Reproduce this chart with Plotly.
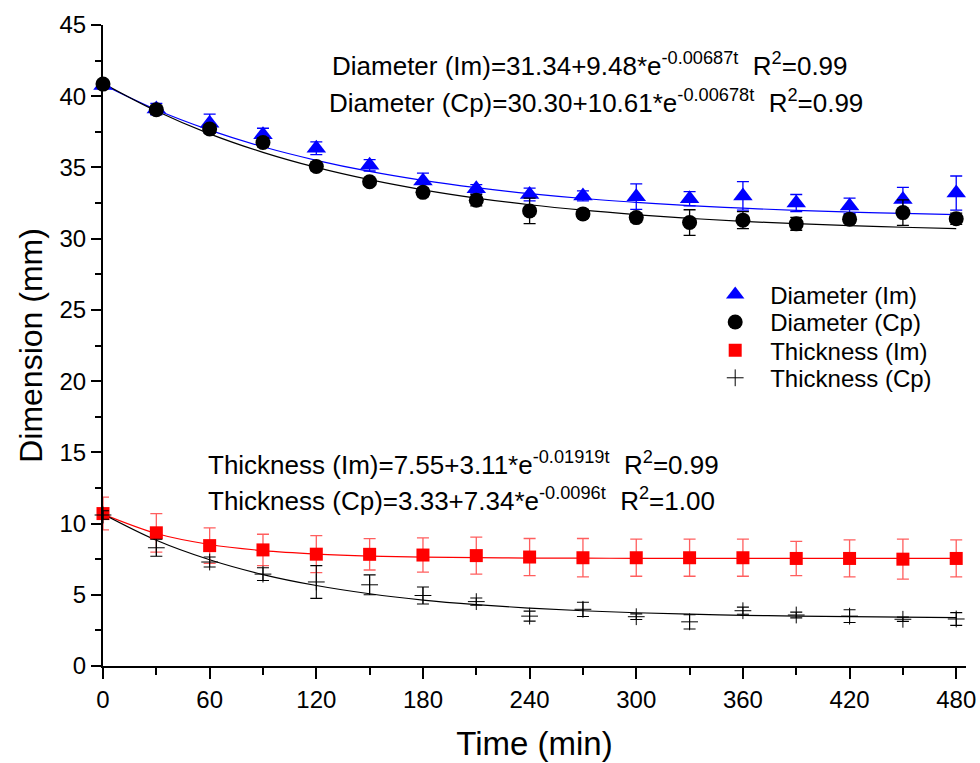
import plotly.graph_objects as go

time_min = [0, 30, 60, 90, 120, 150, 180, 210, 240, 270, 300, 330, 360, 390, 420, 450, 480]

dia_im = [40.75, 39.1, 38.1, 37.3, 36.35, 35.15, 34.05, 33.5, 33.1, 33.0, 32.95, 32.8, 33.0, 32.5, 32.3, 32.75, 33.2]
dia_im_err = [0.2, 0.4, 0.65, 0.45, 0.45, 0.4, 0.55, 0.3, 0.45, 0.35, 0.9, 0.5, 1.0, 0.6, 0.55, 0.85, 1.2]

dia_cp = [40.85, 39.05, 37.7, 36.75, 35.07, 34.0, 33.25, 32.7, 31.95, 31.74, 31.48, 31.13, 31.3, 31.04, 31.37, 31.83, 31.4]
dia_cp_err = [0.2, 0.3, 0.3, 0.3, 0.3, 0.2, 0.3, 0.4, 0.9, 0.3, 0.3, 0.9, 0.6, 0.45, 0.3, 0.9, 0.4]

thk_im = [10.7, 9.35, 8.45, 8.15, 7.85, 7.84, 7.79, 7.75, 7.65, 7.6, 7.6, 7.6, 7.6, 7.55, 7.55, 7.5, 7.55]
thk_im_err = [1.15, 1.35, 1.25, 1.1, 1.3, 1.1, 1.2, 1.3, 1.3, 1.35, 1.3, 1.3, 1.3, 1.2, 1.3, 1.4, 1.3]

thk_cp = [10.6, 8.3, 7.3, 6.45, 5.9, 5.7, 4.95, 4.52, 3.5, 3.98, 3.46, 3.1, 3.88, 3.58, 3.5, 3.28, 3.3]
thk_cp_err = [0.3, 0.6, 0.35, 0.45, 1.15, 0.7, 0.6, 0.25, 0.35, 0.5, 0.2, 0.5, 0.25, 0.2, 0.45, 0.15, 0.45]

# fitted curves as drawn in the chart (read at each 30 min)
fit_dia_im = [40.82, 39.05, 37.62, 36.45, 35.50, 34.72, 34.09, 33.58, 33.16, 32.82, 32.55, 32.32, 32.14, 31.99, 31.87, 31.77, 31.69]
fit_dia_cp = [40.91, 38.96, 37.36, 36.06, 35.00, 34.14, 33.43, 32.85, 32.38, 32.00, 31.69, 31.43, 31.22, 31.05, 30.92, 30.80, 30.71]
fit_thk_im = [10.66, 9.30, 8.53, 8.10, 7.86, 7.72, 7.65, 7.61, 7.58, 7.57, 7.56, 7.55, 7.55, 7.55, 7.55, 7.55, 7.55]
fit_thk_cp = [10.67, 8.83, 7.46, 6.42, 5.65, 5.07, 4.63, 4.31, 4.06, 3.88, 3.74, 3.64, 3.56, 3.50, 3.46, 3.43, 3.40]

series_names = ["Diameter (Im)", "Diameter (Cp)", "Thickness (Im)", "Thickness (Cp)"]

eq_lines = [
    "Diameter (Im)=31.34+9.48*e<sup>-0.00687t</sup>&nbsp;&nbsp;R<sup>2</sup>=0.99",
    "Diameter (Cp)=30.30+10.61*e<sup>-0.00678t</sup>&nbsp;&nbsp;R<sup>2</sup>=0.99",
    "Thickness (Im)=7.55+3.11*e<sup>-0.01919t</sup>&nbsp;&nbsp;R<sup>2</sup>=0.99",
    "Thickness (Cp)=3.33+7.34*e<sup>-0.0096t</sup>&nbsp;&nbsp;R<sup>2</sup>=1.00",
]

FONT = "Arial, 'Liberation Sans', sans-serif"

fig = go.Figure()

# fit lines
for ys, col in [(fit_dia_im, "#0000ff"), (fit_dia_cp, "#000000"),
                (fit_thk_im, "#ff0000"), (fit_thk_cp, "#000000")]:
    fig.add_trace(go.Scatter(x=time_min, y=ys, mode="lines", line=dict(color=col, width=1.2, shape="spline"),
                             showlegend=False, hoverinfo="skip"))

legend_names = ["legend", "legend2", "legend3", "legend4"]

fig.add_trace(go.Scatter(
    x=time_min, y=dia_im, mode="markers", name=series_names[0], legend=legend_names[0],
    marker=dict(symbol="triangle-up", size=17, color="#0000ff"),
    error_y=dict(type="data", array=dia_im_err, color="#0000ff", thickness=1.3, width=6),
    cliponaxis=False))
fig.add_trace(go.Scatter(
    x=time_min, y=dia_cp, mode="markers", name=series_names[1], legend=legend_names[1],
    marker=dict(symbol="circle", size=15, color="#000000"),
    error_y=dict(type="data", array=dia_cp_err, color="#000000", thickness=1.3, width=6),
    cliponaxis=False))
fig.add_trace(go.Scatter(
    x=time_min, y=thk_im, mode="markers", name=series_names[2], legend=legend_names[2],
    marker=dict(symbol="square", size=13, color="#ff0000"),
    error_y=dict(type="data", array=thk_im_err, color="rgba(255,40,40,0.75)", thickness=1.3, width=6),
    cliponaxis=False))
fig.add_trace(go.Scatter(
    x=time_min, y=thk_cp, mode="markers", name=series_names[3], legend=legend_names[3],
    marker=dict(symbol="cross-thin", size=12, color="#000000", line=dict(color="#000000", width=1)),
    error_y=dict(type="data", array=thk_cp_err, color="#000000", thickness=1.1, width=6),
    cliponaxis=False))

ann_pos = [(0.263, 0.939), (0.260, 0.880), (0.119, 0.316), (0.119, 0.260)]
for txt, (ax, ay) in zip(eq_lines, ann_pos):
    fig.add_annotation(x=ax, y=ay, xref="paper", yref="paper", text=txt, showarrow=False,
                       xanchor="left", yanchor="middle", font=dict(family=FONT, size=26, color="#000"))

legend_rows_y = [0.579, 0.536, 0.492, 0.449]
leg_common = dict(x=0.692, xanchor="left", yanchor="middle", bgcolor="rgba(0,0,0,0)",
                  font=dict(family=FONT, size=24, color="#000"), itemwidth=60, itemsizing="trace")
layout_legends = {name: dict(y=ly, **leg_common) for name, ly in zip(legend_names, legend_rows_y)}

fig.update_layout(
    width=980, height=763,
    margin=dict(l=103, r=14, t=25, b=97, autoexpand=False),
    paper_bgcolor="white", plot_bgcolor="white",
    font=dict(family=FONT, color="#000"),
    **layout_legends,
)
fig.update_xaxes(
    range=[0, 485.5], tickmode="linear", tick0=0, dtick=60, automargin=False,
    showline=True, linecolor="#000", linewidth=2, mirror=False,
    ticks="outside", ticklen=11, tickwidth=2, tickcolor="#000",
    minor=dict(ticks="outside", ticklen=7, tickwidth=2, tickcolor="#000", dtick=30, showgrid=False),
    showgrid=False, zeroline=False,
    tickfont=dict(family=FONT, size=24),
    title=dict(text="Time (min)", font=dict(family=FONT, size=33), standoff=20),
)
fig.update_yaxes(
    range=[0, 45], tickmode="linear", tick0=0, dtick=5, automargin=False,
    showline=True, linecolor="#000", linewidth=2, mirror=False,
    ticks="outside", ticklen=10, tickwidth=2, tickcolor="#000",
    minor=dict(ticks="outside", ticklen=6, tickwidth=2, tickcolor="#000", dtick=2.5, showgrid=False),
    showgrid=False, zeroline=False,
    tickfont=dict(family=FONT, size=24),
    title=dict(text="Dimension (mm)", font=dict(family=FONT, size=32), standoff=7),
)

fig.write_html("out.html")
